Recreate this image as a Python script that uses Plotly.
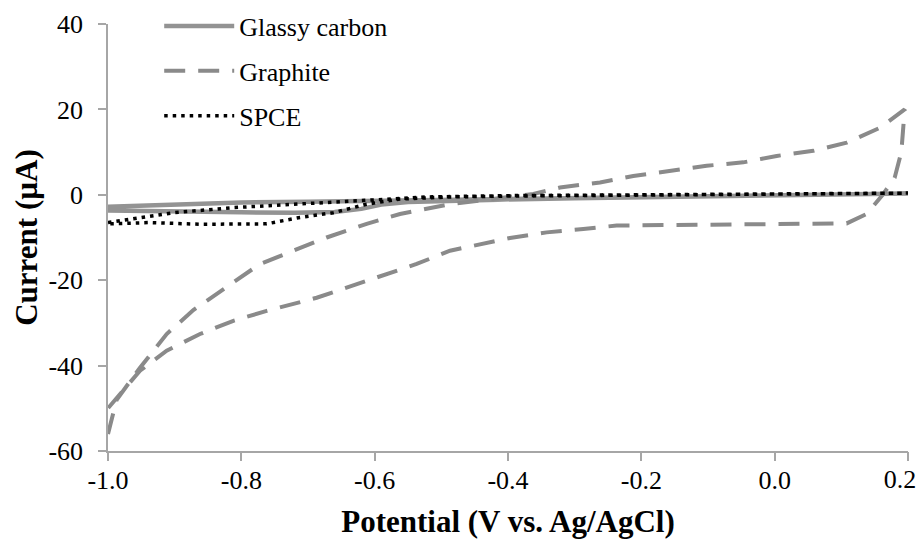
import plotly.graph_objects as go

# ---- data ----
glassy_x = [-1.0, -0.9, -0.8, -0.7, -0.6, -0.5, -0.4, -0.3, -0.2, -0.1, 0.0, 0.1, 0.2,
            0.1, 0.0, -0.1, -0.2, -0.3, -0.4, -0.5, -0.55, -0.59, -0.62, -0.66, -0.72, -0.8, -0.9, -1.0]
glassy_y = [-2.8, -2.3, -1.8, -1.6, -1.4, -1.1, -0.8, -0.6, -0.4, -0.2, 0.0, 0.1, 0.3,
            0.0, -0.2, -0.4, -0.6, -0.8, -1.1, -1.5, -1.7, -2.3, -3.3, -4.0, -4.2, -4.1, -3.9, -3.7]

graphite_x = [-1.0, -0.987, -0.952, -0.912, -0.872, -0.822, -0.772, -0.722, -0.672, -0.612, -0.562,
              -0.487, -0.42, -0.362, -0.322, -0.262, -0.212, -0.157, -0.102, -0.047, 0.003, 0.058,
              0.108, 0.158, 0.195,
              0.19, 0.18, 0.163, 0.138, 0.108, 0.038, -0.062, -0.137, -0.237, -0.287, -0.342, -0.397,
              -0.447, -0.487, -0.537, -0.612, -0.687, -0.762, -0.812, -0.862, -0.912, -0.952, -0.982, -1.0]
graphite_y = [-56, -48, -40.5, -32.6, -27, -21.7, -16.2, -13.1, -10, -6.8, -4.5,
              -2.2, -0.8, 0.2, 1.7, 2.9, 4.4, 5.6, 6.8, 7.6, 9.1, 10.3,
              12.2, 15.7, 20,
              10, 4, 0.2, -4.5, -6.7, -6.8, -6.9, -6.9, -7.2, -8, -8.8, -10.1,
              -11.9, -13.1, -16.2, -20.1, -24.1, -27.2, -29.5, -32.6, -36.5, -41.2, -46.6, -50]

spce_x = [-1.0, -0.952, -0.902, -0.812, -0.712, -0.612, -0.52, -0.4, -0.2, 0.0, 0.2,
          0.0, -0.2, -0.4, -0.487, -0.562, -0.612, -0.662, -0.712, -0.762, -0.862, -0.937, -1.0]
spce_y = [-6.5, -5.3, -4.2, -3.0, -2.1, -1.2, -0.5, -0.2, 0.0, 0.2, 0.4,
          0.1, -0.1, -0.3, -0.5, -1.0, -2.2, -4.2, -5.3, -6.8, -6.9, -6.5, -6.8]

x_ticks = [-1.0, -0.8, -0.6, -0.4, -0.2, 0.0, 0.2]
x_tick_labels = ["-1.0", "-0.8", "-0.6", "-0.4", "-0.2", "0.0", "0.2"]
y_ticks = [-60, -40, -20, 0, 20, 40]
y_tick_labels = ["-60", "-40", "-20", "0", "20", "40"]

FONT = "'Liberation Serif', 'Times New Roman', Times, 'DejaVu Serif', serif"

fig = go.Figure()
fig.add_trace(go.Scatter(x=glassy_x, y=glassy_y, mode="lines", name="Glassy carbon",
                         legendgroup="a",
                         line=dict(color="#939393", width=4.5)))
fig.add_trace(go.Scatter(x=graphite_x, y=graphite_y, mode="lines", name="Graphite",
                         legendgroup="b",
                         line=dict(color="#8a8a8a", width=4, dash="21px,13px")))
# SPCE on the overlaid (range-matched) x axis, which also carries the nudged last tick label
fig.add_trace(go.Scatter(x=spce_x, y=spce_y, mode="lines", name="SPCE",
                         legendgroup="c", xaxis="x2",
                         line=dict(color="#000000", width=3.5, dash="3.5px,5px")))

axis_common = dict(showgrid=False, zeroline=False, showline=True, linecolor="#a6a6a6",
                   linewidth=1.5, ticks="outside", ticklen=8, tickcolor="#a6a6a6", tickwidth=1.5,
                   ticklabeloverflow="allow", automargin=False,
                   tickfont=dict(family=FONT, size=26, color="#000000"))

main_x_text = x_tick_labels[:-1] + [""]

fig.update_layout(
    width=922, height=539,
    margin=dict(l=108, r=14, t=24, b=88, autoexpand=False),
    plot_bgcolor="white", paper_bgcolor="white",
    font=dict(family=FONT, color="#000000"),
    xaxis=dict(range=[-1.0, 0.2], tickvals=x_ticks, ticktext=main_x_text,
               ticklabelstandoff=-3,
               title=dict(text="Potential (V vs. Ag/AgCl)", standoff=16,
                          font=dict(family=FONT, size=31, weight="bold", color="#000000")),
               **axis_common),
    xaxis2=dict(overlaying="x", matches="x", side="bottom", anchor="y",
                range=[-1.0, 0.2], tickvals=x_ticks[-1:], ticktext=x_tick_labels[-1:],
                ticklabelstandoff=-3, ticklabelshift=-8,
                showgrid=False, zeroline=False, showline=False, ticks="outside", ticklen=8,
                tickcolor="#a6a6a6", tickwidth=1.5, ticklabeloverflow="allow", automargin=False,
                tickfont=dict(family=FONT, size=26, color="#000000")),
    yaxis=dict(range=[-60, 40], tickvals=y_ticks, ticktext=y_tick_labels,
               ticklabelstandoff=10,
               title=dict(text="Current (µA)", standoff=2,
                          font=dict(family=FONT, size=31, weight="bold", color="#000000")),
               **axis_common),
    legend=dict(x=0.064, y=1.05, xanchor="left", yanchor="top",
                font=dict(family=FONT, size=26, color="#000000"),
                itemwidth=70, tracegroupgap=8, bgcolor="rgba(0,0,0,0)"),
    showlegend=True,
)

fig.write_html("out.html")
